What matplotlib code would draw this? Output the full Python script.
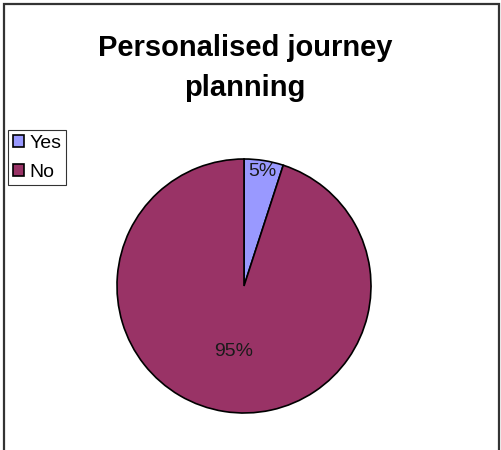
import matplotlib
matplotlib.use("Agg")
import matplotlib.pyplot as plt
from matplotlib.patches import Rectangle
import numpy as np

plt.rcParams['font.family'] = ['Liberation Sans', 'DejaVu Sans']

labels = ['Yes', 'No']
values = [5, 95]
colors = ['#9999FF', '#993366']
label_dist = [0.91, 0.52]

W, H = 501, 450
fig = plt.figure(figsize=(W / 100, H / 100), dpi=100)

# pie centred at (244, 286) px, radius 127 px
cx, cy, r = 244, 286, 127
ax = fig.add_axes([(cx - r) / W, (H - cy - r) / H, 2 * r / W, 2 * r / H])
wedges, texts, autotexts = ax.pie(values, colors=colors, startangle=90, counterclock=False,
                                  autopct='%1.0f%%', pctdistance=1.0,
                                  wedgeprops=dict(edgecolor='black', linewidth=1.2),
                                  textprops=dict(fontsize=14, color='#1a1a1a'))
for t, d in zip(autotexts, label_dist):
    x, y = t.get_position()
    t.set_position((x * d, y * d))
ax.set_xlim(-1.0, 1.0)
ax.set_ylim(-1.0, 1.0)
ax.set_aspect('equal')
ax.axis('off')

fig.text(245 / W, 1 - 68 / H, 'Personalised journey\nplanning', ha='center', va='center',
         fontsize=21, fontweight='bold', linespacing=1.55)

leg = fig.legend(wedges, labels, loc='upper left', bbox_to_anchor=(8 / W, 1 - 130 / H),
                 fontsize=14, frameon=True, fancybox=False, shadow=False,
                 handlelength=0.55, handleheight=0.55, handletextpad=0.3,
                 borderpad=0.25, labelspacing=0.6, borderaxespad=0)
leg.get_frame().set_edgecolor('black')
leg.get_frame().set_linewidth(0.8)

# chart area border
fig.add_artist(Rectangle((4 / W, -0.05), 495 / W, (H - 4) / H + 0.05, transform=fig.transFigure,
                         fill=False, edgecolor='#333333', linewidth=1.6, clip_on=False))

fig.savefig('out.png', dpi=100)
